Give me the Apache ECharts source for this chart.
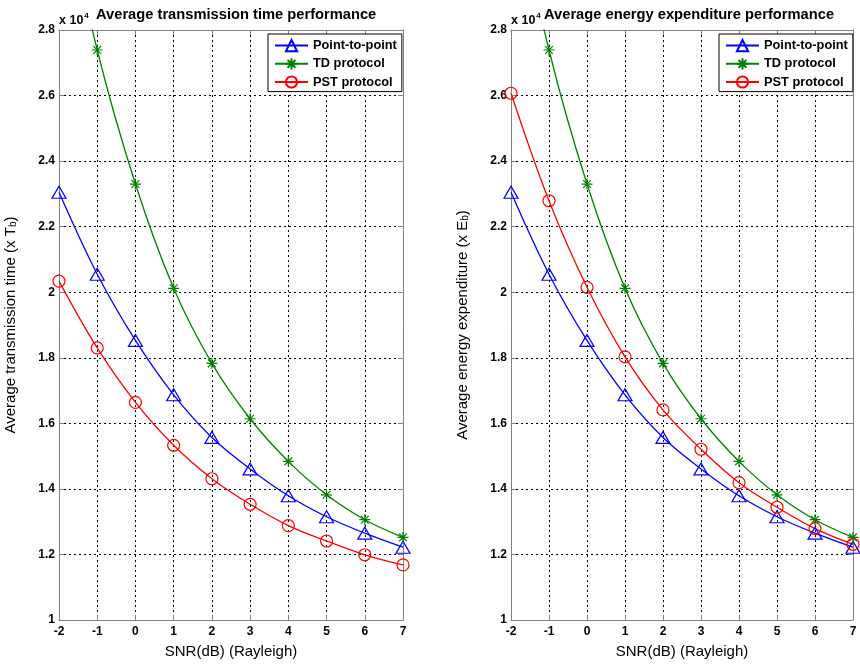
<!DOCTYPE html>
<html>
<head>
<meta charset="utf-8">
<script src="https://cdn.jsdelivr.net/npm/echarts@6/dist/echarts.min.js"></script>
<style>
html,body{margin:0;padding:0;background:#fff;}
#c{width:860px;height:664px;}
</style>
</head>
<body>
<div id="c"></div>
<script>
// ---- data (values in units of x10^4) ----
const snr = [-2, -1, 0, 1, 2, 3, 4, 5, 6, 7];
const yTicks = [1, 1.2, 1.4, 1.6, 1.8, 2, 2.2, 2.4, 2.6, 2.8];
const seriesNames = ['Point-to-point', 'TD protocol', 'PST protocol'];

const timeP2P = [2.305, 2.055, 1.853, 1.687, 1.557, 1.461, 1.379, 1.315, 1.265, 1.222];
const timeTD  = [3.27, 2.739, 2.330, 2.012, 1.783, 1.614, 1.484, 1.382, 1.306, 1.252];
const timePST = [2.034, 1.830, 1.664, 1.533, 1.431, 1.353, 1.288, 1.241, 1.199, 1.168];

const energyP2P = [2.305, 2.055, 1.853, 1.687, 1.557, 1.461, 1.379, 1.315, 1.265, 1.222];
const energyTD  = [3.27, 2.739, 2.330, 2.012, 1.783, 1.614, 1.484, 1.382, 1.306, 1.252];
const energyPST = [2.607, 2.279, 2.015, 1.803, 1.641, 1.521, 1.419, 1.344, 1.279, 1.231];

const titles = ['Average transmission time performance', 'Average energy expenditure performance'];
const yNames = ['Average transmission time (x T{sub|b})', 'Average energy expenditure (x E{sub|b})'];
const xName = 'SNR(dB) (Rayleigh)';

// ---- styling ----
const FONT = 'Liberation Sans, Arial, sans-serif';
const BLUE = '#0000ff', GREEN = '#008000', RED = '#ff0000';
const AXIS = '#808080';
const STAR = 'path://M0,-10L0,10M-10,0L10,0M-7.07,-7.07L7.07,7.07M-7.07,7.07L7.07,-7.07';

const grids = [
  {left: 59, top: 30, width: 344, height: 590},
  {left: 511, top: 30, width: 342, height: 590}
];

function pairs(v) { return snr.map((x, i) => [x, v[i]]); }

const chart = echarts.init(document.getElementById('c'), null, {renderer: 'canvas'});

const xAxes = [], yAxes = [], series = [], legends = [], titleArr = [];

grids.forEach((g, gi) => {
  xAxes.push({
    gridIndex: gi, type: 'value', min: -2, max: 7, interval: 1, position: 'bottom',
    name: xName, nameLocation: 'middle', nameGap: 24,
    nameTextStyle: {fontFamily: FONT, fontSize: 15, color: '#000'},
    axisLine: {onZero: false, lineStyle: {color: AXIS, width: 1}},
    axisTick: {inside: true, length: 5, lineStyle: {color: AXIS}},
    axisLabel: {fontFamily: FONT, fontSize: 12, fontWeight: 'bold', color: '#000', margin: 6},
    splitLine: {show: true, lineStyle: {color: '#000', type: [2, 3], width: 1}}
  });
  xAxes.push({
    gridIndex: gi, type: 'value', min: -2, max: 7, interval: 1, position: 'top',
    axisLine: {onZero: false, lineStyle: {color: AXIS, width: 1}},
    axisTick: {inside: true, length: 5, lineStyle: {color: AXIS}},
    axisLabel: {show: false}, splitLine: {show: false}
  });
  yAxes.push({
    gridIndex: gi, type: 'value', min: 1, max: 2.8, interval: 0.2, position: 'left',
    name: yNames[gi], nameLocation: 'middle', nameGap: 41, nameRotate: 90,
    nameTextStyle: {fontFamily: FONT, fontSize: 15, color: '#000',
      rich: {sub: {fontFamily: FONT, fontSize: 10, color: '#000', padding: [0, 0, -6, 0]}}},
    axisLine: {onZero: false, lineStyle: {color: AXIS, width: 1}},
    axisTick: {inside: true, length: 5, lineStyle: {color: AXIS}},
    axisLabel: {fontFamily: FONT, fontSize: 12, fontWeight: 'bold', color: '#000', margin: 4,
      formatter: v => String(+v.toFixed(1))},
    splitLine: {show: true, lineStyle: {color: '#000', type: [2, 3], width: 1}}
  });
  yAxes.push({
    gridIndex: gi, type: 'value', min: 1, max: 2.8, interval: 0.2, position: 'right',
    axisLine: {onZero: false, lineStyle: {color: AXIS, width: 1}},
    axisTick: {inside: true, length: 5, lineStyle: {color: AXIS}},
    axisLabel: {show: false}, splitLine: {show: false}
  });

  const data = gi === 0 ? [timeP2P, timeTD, timePST] : [energyP2P, energyTD, energyPST];
  const colors = [BLUE, GREEN, RED];
  const symbols = ['triangle', STAR, 'circle'];
  const sizes = [[14, 12], 11, 12];
  data.forEach((d, si) => {
    series.push({
      name: seriesNames[si], type: 'line', xAxisIndex: gi * 2, yAxisIndex: gi * 2,
      data: pairs(d), smooth: 0.35, clip: true,
      color: colors[si],
      symbol: symbols[si], symbolSize: sizes[si], showSymbol: true,
      lineStyle: {color: colors[si], width: 1.3},
      itemStyle: {color: 'transparent', borderColor: colors[si], borderWidth: 1.2},
      emphasis: {disabled: true},
      animation: false
    });
  });

  legends.push({
    left: gi === 0 ? 268 : 719, top: 34, orient: 'vertical',
    data: seriesNames,
    itemWidth: 33, itemHeight: 14, itemGap: 5,
    padding: [5, 5, 3, 6],
    borderColor: '#000', borderWidth: 1, backgroundColor: '#fff',
    textStyle: {fontFamily: FONT, fontSize: 12.8, fontWeight: 'bold', color: '#000'},
    selectedMode: false
  });

  titleArr.push({
    text: titles[gi], left: gi === 0 ? 96 : 544, top: 7, padding: 0,
    textStyle: {fontFamily: FONT, fontSize: 14.7, fontWeight: 'bold', color: '#000'}
  });
  titleArr.push({
    text: '{a|x 10}{s|4}', left: g.left, top: 10, padding: 0,
    textStyle: {rich: {
      a: {fontFamily: FONT, fontSize: 12.5, color: '#000', padding: [4, 0, 0, 0]},
      s: {fontFamily: FONT, fontSize: 8, color: '#000', padding: [0, 0, 6, 1]}
    }}
  });
});

chart.setOption({
  backgroundColor: '#fff',
  animation: false,
  title: titleArr,
  grid: grids.map(g => Object.assign({show: true, borderColor: AXIS, borderWidth: 0}, g)),
  xAxis: xAxes,
  yAxis: yAxes,
  legend: legends,
  series: series
});
</script>
</body>
</html>
